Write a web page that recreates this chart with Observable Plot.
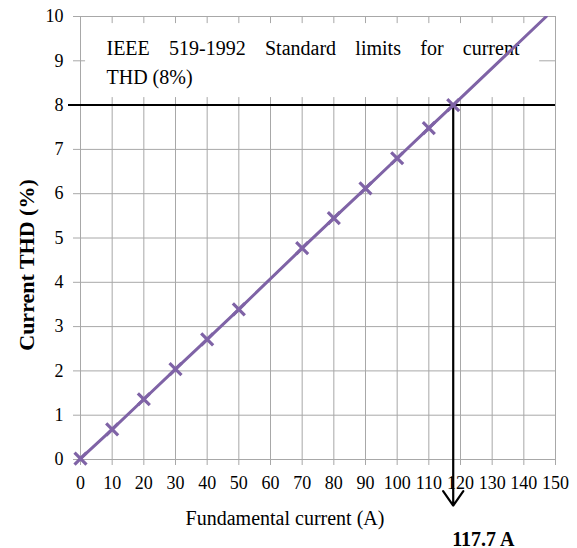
<!DOCTYPE html>
<html>
<head>
<meta charset="utf-8">
<script src="https://cdn.jsdelivr.net/npm/d3@7"></script>
<script src="https://cdn.jsdelivr.net/npm/@observablehq/plot@0.6"></script>
<style>
  html, body { margin: 0; padding: 0; background: white; }
</style>
</head>
<body>
<div id="chart"></div>
<script>
// Data
const currentA = [0, 10, 20, 30, 40, 50, 70, 80, 90, 100, 110, 117.7];
const thdPct   = [0.02, 0.68, 1.36, 2.04, 2.71, 3.39, 4.77, 5.45, 6.12, 6.80, 7.48, 8.0];
// trend line continues to the top of the chart
const lineEndA = 147.1;
const lineEndThd = 10;
const limitThd = 8;          // IEEE 519-1992 limit
const crossingA = 117.7;     // current at which THD reaches the limit
const crossingLabel = "117.7 A";
const xTicks = [0, 10, 20, 30, 40, 50, 60, 70, 80, 90, 100, 110, 120, 130, 140, 150];
const yTicks = [0, 1, 2, 3, 4, 5, 6, 7, 8, 9, 10];
const noteLines = ["IEEE 519-1992 Standard limits for current", "THD (8%)"];
const noteLineThd = [9.14, 8.48];
const noteStartA = 8.2;
const noteBox = [{x1: 1.6, x2: 145, y1: 8.17, y2: 9.84}];
const xLabel = "Fundamental current (A)";
const yLabel = "Current THD (%)";

const points = currentA.map((x, i) => ({x, y: thdPct[i]}));
const linePts = [...points, {x: lineEndA, y: lineEndThd}];
const notes = noteLines.map((t, i) => ({t, x: noteStartA, y: noteLineThd[i]}));

const purple = "#7f63a6";
const grid = "#a8a8a8";

const chart = Plot.plot({
  width: 577,
  height: 548,
  marginLeft: 80,
  marginRight: 22,
  marginTop: 16,
  marginBottom: 89,
  x: {domain: [0, 150]},
  y: {domain: [0, 10]},
  style: {fontSize: "18px", color: "black", background: "white", overflow: "visible"},
  marks: [
    Plot.ruleX(xTicks, {stroke: grid, strokeWidth: 1, strokeOpacity: 1, y1: 0, y2: 10}),
    Plot.ruleY(yTicks, {stroke: grid, strokeWidth: 1, strokeOpacity: 1, x1: 0, x2: 150}),
    Plot.axisX(xTicks, {tickSize: 6, tickPadding: 11, stroke: grid, strokeOpacity: 1, fill: "black", label: null, fontSize: 18, tickFormat: d => String(d)}),
    Plot.axisY(yTicks, {tickSize: 7, tickPadding: 10, stroke: grid, strokeOpacity: 1, fill: "black", label: null, fontSize: 18, tickFormat: d => String(d)}),
    Plot.rect(noteBox, {x1: "x1", x2: "x2", y1: "y1", y2: "y2", fill: "white"}),
    Plot.text(notes, {x: "x", y: "y", text: "t", textAnchor: "start", lineAnchor: "bottom", fontSize: 20, fill: "black", className: "note"}),
    Plot.ruleY([limitThd], {stroke: "black", strokeWidth: 2, insetLeft: -12}),
    Plot.arrow([{x: crossingA}], {x1: "x", x2: "x", y1: () => limitThd, y2: () => -1.04, stroke: "black", strokeWidth: 2.2, headLength: 12, headAngle: 70}),
    Plot.line(linePts, {x: "x", y: "y", stroke: purple, strokeWidth: 3, clip: true}),
    Plot.dot(points, {x: "x", y: "y", symbol: "times", r: 5.5, stroke: purple, strokeWidth: 3.2}),
    Plot.text([crossingLabel], {x: () => crossingA, frameAnchor: "bottom", text: d => d, textAnchor: "start", lineAnchor: "bottom", dy: 86, dx: -1, fontSize: 20, fontWeight: "bold", fill: "black"}),
    Plot.text([xLabel], {frameAnchor: "bottom", text: d => d, textAnchor: "middle", lineAnchor: "bottom", dy: 65, dx: -33, fontSize: 20, fill: "black"}),
    Plot.text([yLabel], {frameAnchor: "left", text: d => d, rotate: -90, textAnchor: "middle", lineAnchor: "bottom", dx: -47, dy: 27, fontSize: 22, fontWeight: "bold", fill: "black"})
  ]
});
document.getElementById("chart").appendChild(chart);

// serif font on every text, set inline
d3.select(chart).selectAll("text").each(function () { this.style.fontFamily = '"Liberation Serif"'; });

// justify the first note line (as in the reference text box)
const firstNote = d3.select(chart).selectAll(".note text").nodes()[0];
if (firstNote) {
  const target = 413;
  const len = firstNote.getComputedTextLength();
  const spaces = (noteLines[0].match(/ /g) || []).length;
  if (spaces > 0 && len < target) firstNote.style.wordSpacing = ((target - len) / spaces) + "px";
}
</script>
</body>
</html>
